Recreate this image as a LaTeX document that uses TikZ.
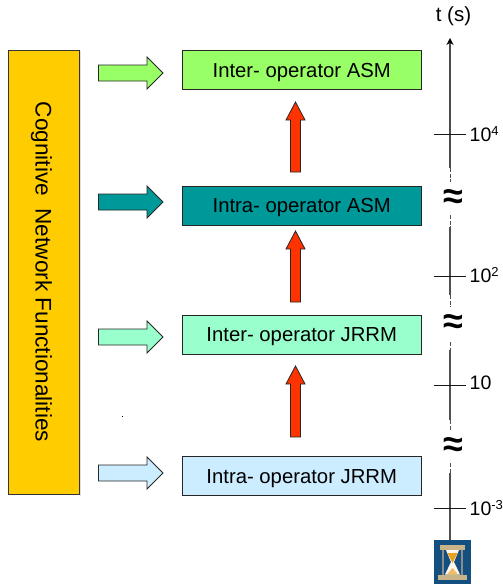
\documentclass[tikz,border=0pt]{standalone}
\usepackage{fontspec}
\setmainfont{Liberation Sans}
\usetikzlibrary{shapes.arrows,arrows.meta,calc}
\definecolor{cOrange}{HTML}{FFCC00}
\definecolor{cGreen}{HTML}{99FF66}
\definecolor{cTeal}{HTML}{009999}
\definecolor{cMint}{HTML}{99FFCC}
\definecolor{cBlue}{HTML}{CCECFF}
\definecolor{cRed}{HTML}{FF3300}
\definecolor{cIcon}{HTML}{14507F}
\definecolor{cFrame}{HTML}{C9B48A}
\definecolor{cSand}{HTML}{E8A020}
\definecolor{cAxis}{HTML}{505050}
\tikzset{
  level/.style={draw=black!85,line width=0.9pt,minimum width=238.5pt,minimum height=39pt,inner sep=0pt,font=\fontsize{20.3}{24}\selectfont,text height=16pt,text depth=2pt,anchor=center},
  blockarrow/.style={draw=black!85,line width=0.8pt},
  tick/.style={line width=0.9pt,black!90},
  axisline/.style={line width=1.2pt,cAxis},
  axisbreak/.style={line width=0.9pt,cAxis,dash pattern=on 4pt off 1.5pt},
  ticklabel/.style={anchor=west,inner sep=0pt,font=\fontsize{19.5}{22}\selectfont},
  breaksign/.style={inner sep=0pt,font=\fontsize{36}{36}\selectfont\bfseries}
}
\newcommand{\hblock}[2]{\path[blockarrow,fill=#2] (98.5,#1-8) -- (147,#1-8) -- (147,#1-16) -- (163,#1) -- (147,#1+16) -- (147,#1+8) -- (98.5,#1+8) -- cycle;}
\newcommand{\vblock}[2]{\path[blockarrow,fill=cRed] (290.5,#2) -- (290.5,#1+18) -- (286,#1+18) -- (295.5,#1) -- (305,#1+18) -- (300.5,#1+18) -- (300.5,#2) -- cycle;}
\newcommand{\supr}[1]{\raisebox{6.5pt}{\fontsize{13}{13}\selectfont #1}}
\begin{document}
\begin{tikzpicture}[x=1pt,y=-1pt]
\useasboundingbox (0,0) rectangle (503,584);
% soft edge of the left bar
\fill[black!12] (80,51) rectangle (81,495.5);
% left bar
\node[draw=black!80,line width=0.9pt,fill=cOrange,minimum width=71pt,minimum height=444pt,inner sep=0pt] (bar) at (44,272.5) {};
\node[rotate=-90,inner sep=0pt,font=\fontsize{22.6}{24}\selectfont] (bartext) at (41.5,272) {Cognitive\ \ Network Functionalities};
% levels
\node[level,fill=cGreen] (l4) at (301.75,70) {Inter- operator ASM};
\node[level,fill=cTeal] (l3) at (301.75,205.5) {Intra- operator ASM};
\node[level,fill=cMint] (l2) at (301.75,334.5) {Inter- operator JRRM};
\node[level,fill=cBlue] (l1) at (301.75,476) {Intra- operator JRRM};
% side arrows
\hblock{73}{cGreen}
\hblock{202}{cTeal}
\hblock{337}{cMint}
\hblock{473}{cBlue}
% red arrows
\vblock{102}{172}
\vblock{231}{302}
\vblock{366}{437}
% axis
\node[inner sep=0pt,font=\fontsize{20.5}{24}\selectfont] (tlabel) at (453.5,16) {t (s)};
\coordinate (axtop) at (450,38);
\coordinate (a3) at (450,168);
\coordinate (a3e) at (450,182);
\coordinate (b3s) at (450,215);
\coordinate (b3) at (450,227);
\coordinate (a2) at (450,295);
\coordinate (a2e) at (450,307);
\coordinate (b2s) at (450,342);
\coordinate (b2) at (450,350);
\coordinate (a1) at (450,420);
\coordinate (a1e) at (450,430);
\coordinate (b1s) at (450,463);
\coordinate (b1) at (450,473);
\coordinate (axbot) at (450,540);
\draw[axisline,black!70,-{Stealth[length=7pt,width=7pt,black]}] (a3) -- (axtop);
\draw[axisline] (b3) -- (a2);
\draw[axisline] (b2) -- (a1);
\draw[axisline] (b1) -- (axbot);
\draw[axisbreak] (a3) -- (a3e) (b3s) -- (b3) (a2) -- (a2e) (b2s) -- (b2) (a1) -- (a1e) (b1s) -- (b1);
\node[breaksign] (s3) at (453,199) {≈};
\node[breaksign] (s2) at (453,324) {≈};
\node[breaksign] (s1) at (453,447) {≈};
% ticks
\draw[tick] (434,134) -- (466,134);
\draw[tick] (434,276) -- (466,276);
\draw[tick] (434,385) -- (466,385);
\draw[tick] (434,508) -- (466,508);
\node[ticklabel] (t4) at (469.5,134) {10\supr{4}};
\node[ticklabel] (t3) at (469.5,275) {10\supr{2}};
\node[ticklabel] (t2) at (469.5,383) {10};
\node[ticklabel] (t1) at (469.5,508) {10\supr{-3}};
% hourglass icon
\fill[cIcon] (434,540) rectangle (471,584);
\fill[cFrame] (440,545) rectangle (465,549.5);
\fill[cFrame] (438,575) rectangle (467,580);
\fill[black!45] (442,549.5) rectangle (444,575);
\fill[black!45] (461,549.5) rectangle (463,575);
\fill[white!92!cSand] (446,550) -- (459,550) -- (454,562) -- (460,574.5) -- (445,574.5) -- (451,562) -- cycle;
\fill[cSand] (447.5,553) -- (457.5,553) -- (452.5,563) -- cycle;
\fill[cSand!70!white] (447,574.5) -- (458,574.5) -- (452.5,568) -- cycle;
% small speck
\fill[black] (122,415.5) rectangle (123,416.5);
\end{tikzpicture}
\end{document}
